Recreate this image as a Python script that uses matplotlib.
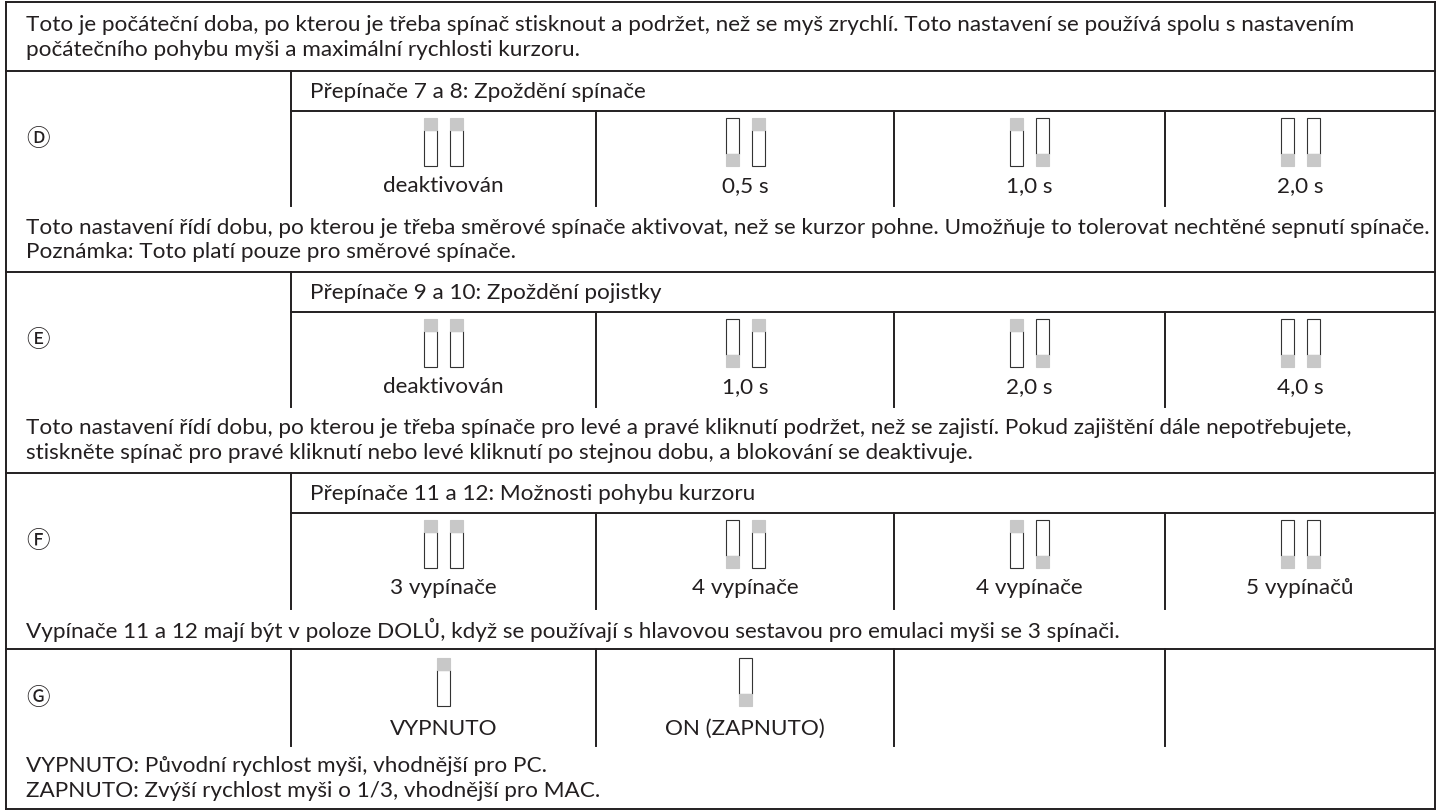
import matplotlib
matplotlib.use("Agg")
import matplotlib.pyplot as plt
from matplotlib.patches import Rectangle

# ---------------- data ----------------
descriptions = [
    ["Toto je počáteční doba, po kterou je třeba spínač stisknout a podržet, než se myš zrychlí. Toto nastavení se používá spolu s nastavením",
     "počátečního pohybu myši a maximální rychlosti kurzoru."],
    ["Toto nastavení řídí dobu, po kterou je třeba směrové spínače aktivovat, než se kurzor pohne. Umožňuje to tolerovat nechtěné sepnutí spínače.",
     "Poznámka: Toto platí pouze pro směrové spínače."],
    ["Toto nastavení řídí dobu, po kterou je třeba spínače pro levé a pravé kliknutí podržet, než se zajistí. Pokud zajištění dále nepotřebujete,",
     "stiskněte spínač pro pravé kliknutí nebo levé kliknutí po stejnou dobu, a blokování se deaktivuje."],
    ["Vypínače 11 a 12 mají být v poloze DOLŮ, když se používají s hlavovou sestavou pro emulaci myši se 3 spínači."],
    ["VYPNUTO: Původní rychlost myši, vhodnější pro PC.",
     "ZAPNUTO: Zvýší rychlost myši o 1/3, vhodnější pro MAC."],
]
section_letters = ["\u24b9", "\u24ba", "\u24bb", "\u24bc"]   # Ⓓ Ⓔ Ⓕ Ⓖ
subheaders = ["Přepínače 7 a 8: Zpoždění spínače",
              "Přepínače 9 a 10: Zpoždění pojistky",
              "Přepínače 11 a 12: Možnosti pohybu kurzoru",
              None]
option_labels = [
    ["deaktivován", "0,5 s", "1,0 s", "2,0 s"],
    ["deaktivován", "1,0 s", "2,0 s", "4,0 s"],
    ["3 vypínače", "4 vypínače", "4 vypínače", "5 vypínačů"],
    ["VYPNUTO", "ON (ZAPNUTO)", None, None],
]
# switch positions: 1 = up (grey at top), 0 = down (grey at bottom)
switch_states = [
    [(1, 1), (0, 1), (1, 0), (0, 0)],
    [(1, 1), (0, 1), (1, 0), (0, 0)],
    [(1, 1), (0, 1), (1, 0), (0, 0)],
    [(1,), (0,), None, None],
]

# ---------------- layout (pixels) ----------------
W, H = 1440, 812
col_x = [6, 291, 596, 894, 1165, 1435]
top = 3
bottom = 810
# row boundaries in order: text, sec D, text, sec E, text, sec F, text, sec G, text
row_edges = [3, 72, 207, 273, 408, 474, 610, 650, 747, bottom]
sub_h = 40
LINE = "#231f20"
TXT = "#231f20"
GREY = "#c8c8c8"
FONT = ["Lato", "DejaVu Sans"]
SYM_FONT = ["Noto Sans CJK JP", "DejaVu Sans"]

fig = plt.figure(figsize=(W / 100, H / 100), dpi=100)
ax = fig.add_axes([0, 0, 1, 1])
ax.set_xlim(0, W)
ax.set_ylim(H, 0)
ax.axis("off")

# auto-fit font size to the reference width of the longest line
probe = ax.text(0, 0, descriptions[1][0], fontsize=10, family=FONT)
fig.canvas.draw()
w10 = probe.get_window_extent(renderer=fig.canvas.get_renderer()).width
probe.remove()
FS = 10 * 1400 / w10

lw = 1.4

def hline(y, x0=col_x[0], x1=col_x[-1]):
    ax.plot([x0, x1], [y, y], color=LINE, lw=lw, solid_capstyle="projecting")

def vline(x, y0, y1):
    ax.plot([x, x], [y0, y1], color=LINE, lw=lw, solid_capstyle="projecting")

# outer frame
hline(top)
hline(bottom)
vline(col_x[0], top, bottom)
vline(col_x[-1], top, bottom)

# text rows
text_rows = [0, 2, 4, 6, 8]
for k, ri in enumerate(text_rows):
    y0, y1 = row_edges[ri], row_edges[ri + 1]
    lines = descriptions[k]
    n = len(lines)
    c = (y0 + y1) / 2
    sp = 25
    for j, ln in enumerate(lines):
        yy = c + (j - (n - 1) / 2) * sp
        ax.text(26, yy, ln, fontsize=FS, family=FONT, color=TXT,
                ha="left", va="center")
    if ri < len(row_edges) - 2:
        hline(y1)

# switch drawing
sw_w, sw_gap, sw_h, grey_h = 13, 13, 48, 12

def draw_switch(x, y, state):
    # white body with outline and a grey slider
    if state == 1:
        ax.add_patch(Rectangle((x, y + grey_h), sw_w, sw_h - grey_h,
                               facecolor="white", edgecolor="#333333", lw=0.8))
        ax.add_patch(Rectangle((x, y), sw_w, grey_h, facecolor=GREY,
                               edgecolor=GREY, lw=0.8))
    else:
        ax.add_patch(Rectangle((x, y), sw_w, sw_h - grey_h,
                               facecolor="white", edgecolor="#333333", lw=0.8))
        ax.add_patch(Rectangle((x, y + sw_h - grey_h), sw_w, grey_h,
                               facecolor=GREY, edgecolor=GREY, lw=0.8))

sec_rows = [1, 3, 5, 7]
for s, ri in enumerate(sec_rows):
    y0, y1 = row_edges[ri], row_edges[ri + 1]
    ax.text(38, (y0 + y1) / 2, section_letters[s], fontsize=17,
            family=SYM_FONT, color=TXT, ha="center", va="center")
    vline(col_x[1], y0, y1)
    if subheaders[s] is not None:
        ys = y0 + sub_h
        hline(ys, col_x[1], col_x[-1])
        ax.text(col_x[1] + 19, (y0 + ys) / 2, subheaders[s], fontsize=FS,
                family=FONT, color=TXT, ha="left", va="center")
        sw_top = y0 + 47
        lab_y = y0 + 114
    else:
        ys = y0
        sw_top = y0 + 9
        lab_y = y0 + 79
    for c in range(4):
        xa, xb = col_x[c + 1], col_x[c + 2]
        if c < 3:
            vline(xb, ys, y1)
        states = switch_states[s][c]
        if states is None:
            continue
        cx = (xa + xb) / 2
        n = len(states)
        total = n * sw_w + (n - 1) * sw_gap
        for k, st in enumerate(states):
            draw_switch(cx - total / 2 + k * (sw_w + sw_gap), sw_top, st)
        ax.text(cx, lab_y, option_labels[s][c], fontsize=FS, family=FONT,
                color=TXT, ha="center", va="center")

fig.savefig("out.png", dpi=100, facecolor="white")
